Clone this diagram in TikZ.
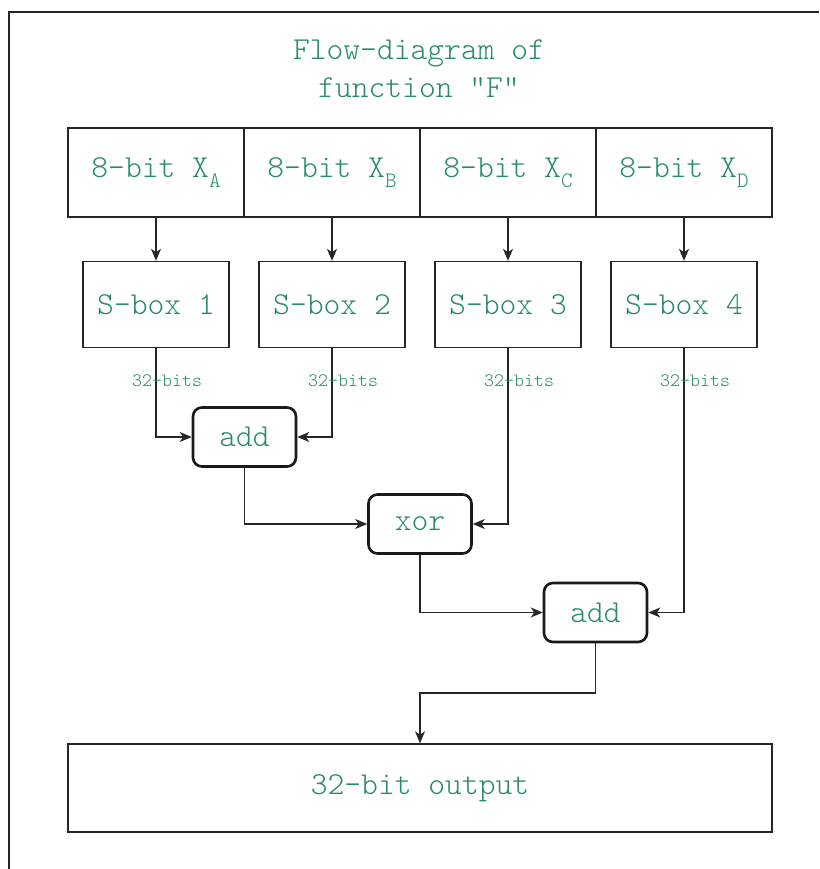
\documentclass[tikz,border=0pt]{standalone}
\usepackage{fontspec}
\setmainfont{Latin Modern Mono Light}
\usetikzlibrary{arrows.meta}
\definecolor{txtgreen}{RGB}{40,140,98}
\newcommand{\mysub}[1]{\raisebox{-0.3em}{\fontsize{22}{22}\selectfont #1}}
\tikzset{
  bigtxt/.style={text=txtgreen, font=\fontsize{32}{38}\selectfont},
  topbox/.style={draw=black!85, line width=1.4pt, minimum width=176pt, minimum height=89pt, inner sep=0pt, bigtxt},
  sbox/.style={draw=black!85, line width=1.4pt, minimum width=146pt, minimum height=86pt, inner sep=0pt, bigtxt},
  opbox/.style={draw=black!90, line width=2.6pt, rounded corners=9pt, minimum width=103pt, minimum height=59pt, inner sep=0pt, bigtxt},
  outbox/.style={draw=black!85, line width=1.4pt, minimum width=704pt, minimum height=88pt, inner sep=0pt, bigtxt},
  arr/.style={draw=black!85, line width=1.3pt, -{Stealth[length=12pt,width=10pt,inset=3.5pt]}},
  bitlabel/.style={text=txtgreen, font=\fontsize{19}{20}\selectfont, inner sep=0pt, anchor=west}
}
\begin{document}
\begin{tikzpicture}[x=1pt,y=-1pt]
\useasboundingbox (0,0) rectangle (819,869);
\fill[white] (0,0) rectangle (819,869);
\draw[black!85, line width=1.5pt] (9,869) -- (9,12) -- (819,12);

\node[bigtxt, align=center] (title) at (419,69) {Flow-diagram of\\ function \symbol{34}F\symbol{34}};

\node[topbox] (xa) at (156,172.5) {8-bit X\mysub{A}};
\node[topbox] (xb) at (332,172.5) {8-bit X\mysub{B}};
\node[topbox] (xc) at (508,172.5) {8-bit X\mysub{C}};
\node[topbox] (xd) at (684,172.5) {8-bit X\mysub{D}};

\node[sbox] (s1) at (156,304.5) {S-box 1};
\node[sbox] (s2) at (332,304.5) {S-box 2};
\node[sbox] (s3) at (508,304.5) {S-box 3};
\node[sbox] (s4) at (684,304.5) {S-box 4};

\node[opbox] (add1) at (244.5,437) {add};
\node[opbox] (xor) at (420,524) {xor};
\node[opbox] (add2) at (595.5,612.5) {add};

\node[outbox] (out) at (420,788) {32-bit output};

\draw[arr] (xa.south) -- (s1.north);
\draw[arr] (xb.south) -- (s2.north);
\draw[arr] (xc.south) -- (s3.north);
\draw[arr] (xd.south) -- (s4.north);

\draw[arr] (s1.south) |- (add1.west);
\draw[arr] (s2.south) |- (add1.east);
\draw[arr] (s3.south) |- (xor.east);
\draw[arr] (add1.south) |- (xor.west);
\draw[arr] (xor.south) |- (add2.west);
\draw[arr] (s4.south) |- (add2.east);
\coordinate (bend) at (595.5,693);
\draw[arr] (add2.south) -- (bend) -| (out.north);

\node[bitlabel] (l1) at (132,381) {32-bits};
\node[bitlabel] (l2) at (308,381) {32-bits};
\node[bitlabel] (l3) at (484,381) {32-bits};
\node[bitlabel] (l4) at (660,381) {32-bits};
\end{tikzpicture}
\end{document}
